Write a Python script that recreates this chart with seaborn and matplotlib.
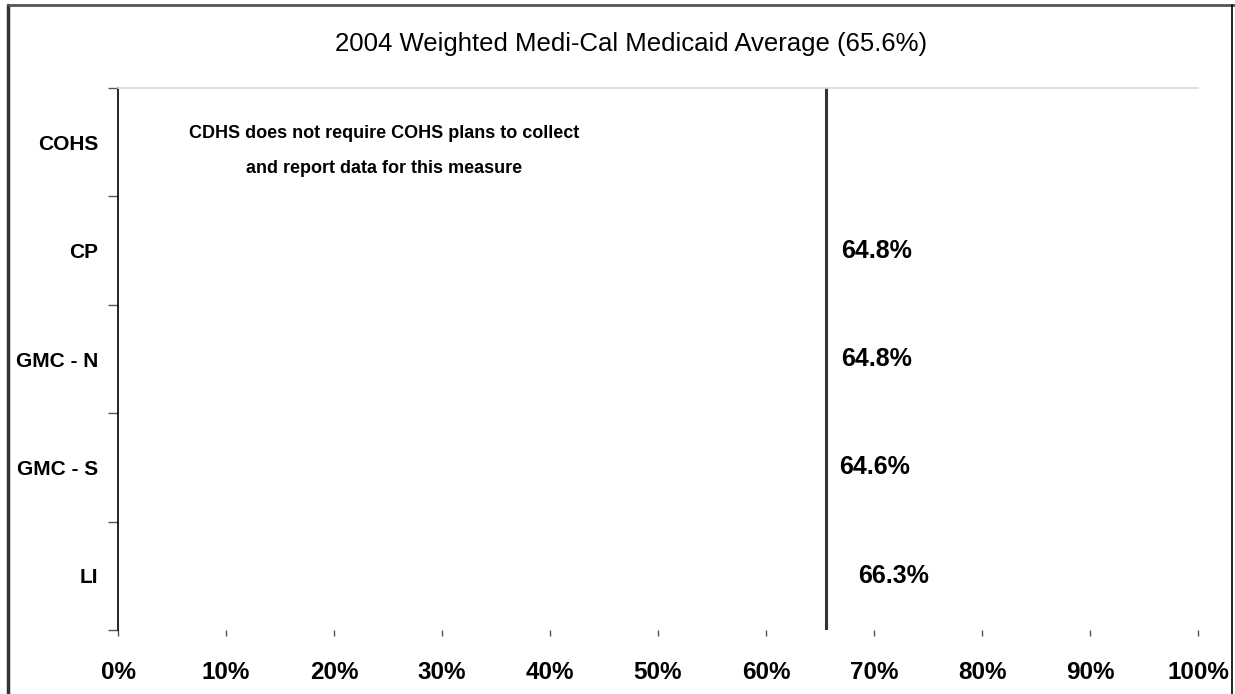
import matplotlib
matplotlib.use("Agg")
import matplotlib.pyplot as plt
from matplotlib.lines import Line2D
import numpy as np
import pandas as pd
import seaborn as sns

PLANS = ['COHS', 'CP', 'GMC - N', 'GMC - S', 'LI']
RATES = [np.nan, 64.8, 64.8, 64.6, 66.3]
STATE_AVG = 65.6
TITLE = '2004 Weighted Medi-Cal Medicaid Average (65.6%)'
NOTE = 'CDHS does not require COHS plans to collect\nand report data for this measure'
X_TICKS = list(range(0, 101, 10))

sns.set_theme(style='white')
plt.rcParams['font.family'] = ['Liberation Sans', 'DejaVu Sans']
plt.rcParams['text.color'] = 'black'

df = pd.DataFrame({'plan': PLANS, 'rate': RATES})

W, H = 1235, 694
fig = plt.figure(figsize=(W / 100, H / 100), dpi=100)
ax = fig.add_axes([118 / W, 1 - 630 / H, (1198 - 118) / W, (630 - 88) / H])

sns.barplot(data=df, y='plan', x='rate', orient='h', color='white',
            width=0.6, ax=ax, saturation=1)

ax.set_xlim(0, 100)
ax.set_ylim(len(PLANS) - 0.5, -0.5)
ax.axvline(STATE_AVG, color='#333333', lw=2.2, ymin=0, ymax=1)

for i, v in enumerate(RATES):
    if np.isnan(v):
        continue
    ax.text(v + 2.2, i, f'{v:.1f}%', ha='left', va='center',
            fontsize=18, fontweight='bold', color='black')

ax.text(24.6, 0.08, NOTE, ha='center', va='center', fontsize=13,
        fontweight='bold', color='black', linespacing=2.4)

# spines: left only, plus light line on top
for s in ['right', 'bottom']:
    ax.spines[s].set_visible(False)
ax.spines['top'].set_color('#d9d9d9')
ax.spines['top'].set_linewidth(1.2)
ax.spines['left'].set_color('black')
ax.spines['left'].set_linewidth(1.2)

ax.set_xticks(X_TICKS)
ax.set_xticklabels([f'{t}%' for t in X_TICKS], fontsize=17.5, fontweight='bold',
                   color='black')
ax.tick_params(axis='x', bottom=True, length=4, width=1, color='#555555',
               direction='out', pad=18)
ax.set_yticks(np.arange(len(PLANS)))
ax.set_yticklabels(PLANS, fontsize=15, fontweight='bold', color='black')
ax.set_yticks(np.arange(len(PLANS) + 1) - 0.5, minor=True)
ax.tick_params(axis='y', which='major', left=False, pad=8)
ax.tick_params(axis='y', which='minor', left=True, length=7, width=1,
               color='#555555', direction='out')
ax.set_xlabel('')
ax.set_ylabel('')
ax.grid(False)

fig.text(631 / W, 1 - 44 / H, TITLE, ha='center', va='center', fontsize=18.5,
         color='black')

# outer frame
fig.add_artist(Line2D([8 / W, 8 / W], [0, 1 - 5 / H], color='#333333', lw=2.5,
                      transform=fig.transFigure))
fig.add_artist(Line2D([8 / W, 1], [1 - 5 / H, 1 - 5 / H], color='#555555', lw=2,
                      transform=fig.transFigure))
fig.add_artist(Line2D([1232 / W, 1232 / W], [0, 1 - 5 / H], color='black', lw=1.2,
                      transform=fig.transFigure))

fig.savefig('out.png', dpi=100, facecolor='white')
